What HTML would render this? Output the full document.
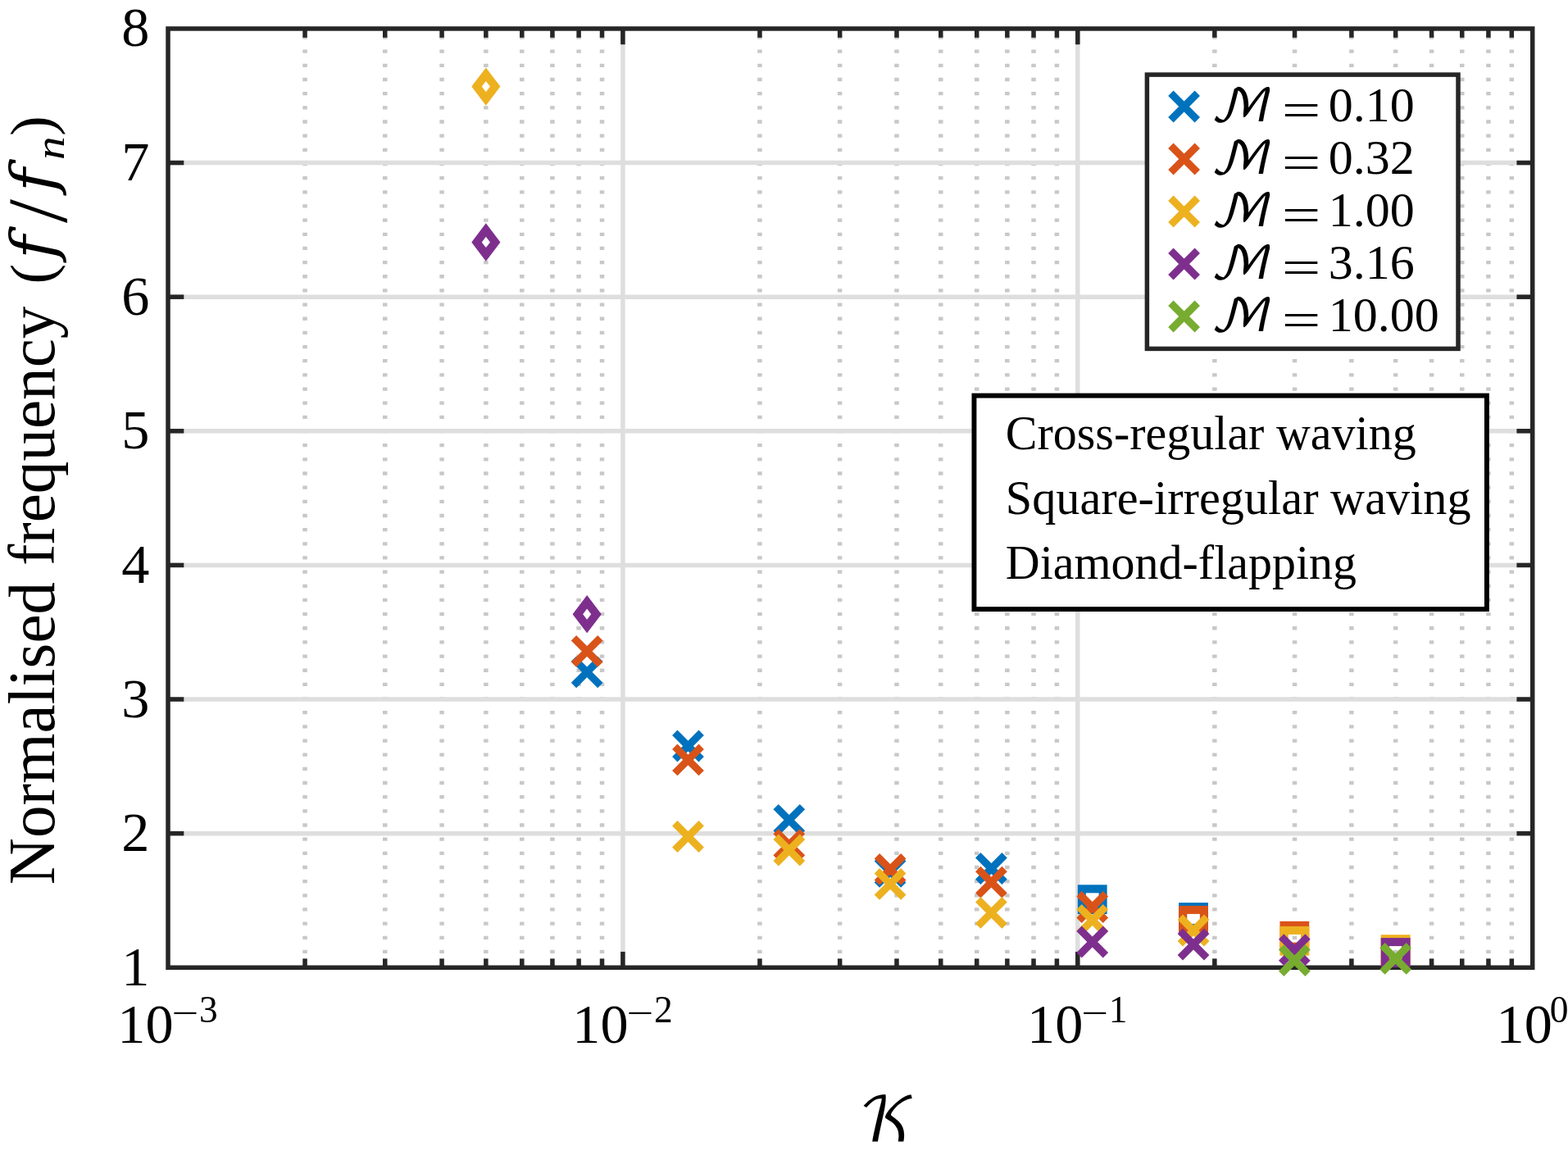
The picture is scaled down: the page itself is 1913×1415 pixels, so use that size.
<!DOCTYPE html>
<html><head><meta charset="utf-8"><title>Normalised frequency vs K</title>
<style>html,body{margin:0;padding:0;background:#fff;overflow:hidden;} svg{display:block;}</style>
</head><body>
<svg width="1913" height="1415" viewBox="0 0 1913 1415">
<rect x="0" y="0" width="1913" height="1415" fill="#ffffff"/>
<g stroke="#c8c8c8" stroke-width="5.5" stroke-dasharray="4.3 12.86" fill="none">
<line x1="372.04" y1="1180.25" x2="372.04" y2="34.95"/>
<line x1="469.75" y1="1180.25" x2="469.75" y2="34.95"/>
<line x1="539.08" y1="1180.25" x2="539.08" y2="34.95"/>
<line x1="592.86" y1="1180.25" x2="592.86" y2="34.95"/>
<line x1="636.80" y1="1180.25" x2="636.80" y2="34.95"/>
<line x1="673.94" y1="1180.25" x2="673.94" y2="34.95"/>
<line x1="706.12" y1="1180.25" x2="706.12" y2="34.95"/>
<line x1="734.51" y1="1180.25" x2="734.51" y2="34.95"/>
<line x1="926.94" y1="1180.25" x2="926.94" y2="34.95"/>
<line x1="1024.65" y1="1180.25" x2="1024.65" y2="34.95"/>
<line x1="1093.98" y1="1180.25" x2="1093.98" y2="34.95"/>
<line x1="1147.76" y1="1180.25" x2="1147.76" y2="34.95"/>
<line x1="1191.70" y1="1180.25" x2="1191.70" y2="34.95"/>
<line x1="1228.84" y1="1180.25" x2="1228.84" y2="34.95"/>
<line x1="1261.02" y1="1180.25" x2="1261.02" y2="34.95"/>
<line x1="1289.41" y1="1180.25" x2="1289.41" y2="34.95"/>
<line x1="1481.84" y1="1180.25" x2="1481.84" y2="34.95"/>
<line x1="1579.55" y1="1180.25" x2="1579.55" y2="34.95"/>
<line x1="1648.88" y1="1180.25" x2="1648.88" y2="34.95"/>
<line x1="1702.66" y1="1180.25" x2="1702.66" y2="34.95"/>
<line x1="1746.60" y1="1180.25" x2="1746.60" y2="34.95"/>
<line x1="1783.74" y1="1180.25" x2="1783.74" y2="34.95"/>
<line x1="1815.92" y1="1180.25" x2="1815.92" y2="34.95"/>
<line x1="1844.31" y1="1180.25" x2="1844.31" y2="34.95"/>
</g>
<g stroke="#dedede" stroke-width="5.5" fill="none">
<line x1="759.90" y1="1180.25" x2="759.90" y2="34.95"/>
<line x1="1314.80" y1="1180.25" x2="1314.80" y2="34.95"/>
<line x1="205.0" y1="1016.64" x2="1869.7" y2="1016.64"/>
<line x1="205.0" y1="853.02" x2="1869.7" y2="853.02"/>
<line x1="205.0" y1="689.41" x2="1869.7" y2="689.41"/>
<line x1="205.0" y1="525.79" x2="1869.7" y2="525.79"/>
<line x1="205.0" y1="362.18" x2="1869.7" y2="362.18"/>
<line x1="205.0" y1="198.56" x2="1869.7" y2="198.56"/>
</g>
<g stroke="#262626" stroke-width="5.5" fill="none">
<line x1="759.90" y1="1180.25" x2="759.90" y2="1160.95"/><line x1="759.90" y1="34.95" x2="759.90" y2="54.25"/>
<line x1="1314.80" y1="1180.25" x2="1314.80" y2="1160.95"/><line x1="1314.80" y1="34.95" x2="1314.80" y2="54.25"/>
<line x1="372.04" y1="1180.25" x2="372.04" y2="1169.35"/><line x1="372.04" y1="34.95" x2="372.04" y2="45.85"/>
<line x1="469.75" y1="1180.25" x2="469.75" y2="1169.35"/><line x1="469.75" y1="34.95" x2="469.75" y2="45.85"/>
<line x1="539.08" y1="1180.25" x2="539.08" y2="1169.35"/><line x1="539.08" y1="34.95" x2="539.08" y2="45.85"/>
<line x1="592.86" y1="1180.25" x2="592.86" y2="1169.35"/><line x1="592.86" y1="34.95" x2="592.86" y2="45.85"/>
<line x1="636.80" y1="1180.25" x2="636.80" y2="1169.35"/><line x1="636.80" y1="34.95" x2="636.80" y2="45.85"/>
<line x1="673.94" y1="1180.25" x2="673.94" y2="1169.35"/><line x1="673.94" y1="34.95" x2="673.94" y2="45.85"/>
<line x1="706.12" y1="1180.25" x2="706.12" y2="1169.35"/><line x1="706.12" y1="34.95" x2="706.12" y2="45.85"/>
<line x1="734.51" y1="1180.25" x2="734.51" y2="1169.35"/><line x1="734.51" y1="34.95" x2="734.51" y2="45.85"/>
<line x1="926.94" y1="1180.25" x2="926.94" y2="1169.35"/><line x1="926.94" y1="34.95" x2="926.94" y2="45.85"/>
<line x1="1024.65" y1="1180.25" x2="1024.65" y2="1169.35"/><line x1="1024.65" y1="34.95" x2="1024.65" y2="45.85"/>
<line x1="1093.98" y1="1180.25" x2="1093.98" y2="1169.35"/><line x1="1093.98" y1="34.95" x2="1093.98" y2="45.85"/>
<line x1="1147.76" y1="1180.25" x2="1147.76" y2="1169.35"/><line x1="1147.76" y1="34.95" x2="1147.76" y2="45.85"/>
<line x1="1191.70" y1="1180.25" x2="1191.70" y2="1169.35"/><line x1="1191.70" y1="34.95" x2="1191.70" y2="45.85"/>
<line x1="1228.84" y1="1180.25" x2="1228.84" y2="1169.35"/><line x1="1228.84" y1="34.95" x2="1228.84" y2="45.85"/>
<line x1="1261.02" y1="1180.25" x2="1261.02" y2="1169.35"/><line x1="1261.02" y1="34.95" x2="1261.02" y2="45.85"/>
<line x1="1289.41" y1="1180.25" x2="1289.41" y2="1169.35"/><line x1="1289.41" y1="34.95" x2="1289.41" y2="45.85"/>
<line x1="1481.84" y1="1180.25" x2="1481.84" y2="1169.35"/><line x1="1481.84" y1="34.95" x2="1481.84" y2="45.85"/>
<line x1="1579.55" y1="1180.25" x2="1579.55" y2="1169.35"/><line x1="1579.55" y1="34.95" x2="1579.55" y2="45.85"/>
<line x1="1648.88" y1="1180.25" x2="1648.88" y2="1169.35"/><line x1="1648.88" y1="34.95" x2="1648.88" y2="45.85"/>
<line x1="1702.66" y1="1180.25" x2="1702.66" y2="1169.35"/><line x1="1702.66" y1="34.95" x2="1702.66" y2="45.85"/>
<line x1="1746.60" y1="1180.25" x2="1746.60" y2="1169.35"/><line x1="1746.60" y1="34.95" x2="1746.60" y2="45.85"/>
<line x1="1783.74" y1="1180.25" x2="1783.74" y2="1169.35"/><line x1="1783.74" y1="34.95" x2="1783.74" y2="45.85"/>
<line x1="1815.92" y1="1180.25" x2="1815.92" y2="1169.35"/><line x1="1815.92" y1="34.95" x2="1815.92" y2="45.85"/>
<line x1="1844.31" y1="1180.25" x2="1844.31" y2="1169.35"/><line x1="1844.31" y1="34.95" x2="1844.31" y2="45.85"/>
<line x1="205.0" y1="1016.64" x2="224.3" y2="1016.64"/><line x1="1869.7" y1="1016.64" x2="1850.4" y2="1016.64"/>
<line x1="205.0" y1="853.02" x2="224.3" y2="853.02"/><line x1="1869.7" y1="853.02" x2="1850.4" y2="853.02"/>
<line x1="205.0" y1="689.41" x2="224.3" y2="689.41"/><line x1="1869.7" y1="689.41" x2="1850.4" y2="689.41"/>
<line x1="205.0" y1="525.79" x2="224.3" y2="525.79"/><line x1="1869.7" y1="525.79" x2="1850.4" y2="525.79"/>
<line x1="205.0" y1="362.18" x2="224.3" y2="362.18"/><line x1="1869.7" y1="362.18" x2="1850.4" y2="362.18"/>
<line x1="205.0" y1="198.56" x2="224.3" y2="198.56"/><line x1="1869.7" y1="198.56" x2="1850.4" y2="198.56"/>
</g>
<rect x="205.0" y="34.95" width="1664.70" height="1145.30" fill="none" stroke="#262626" stroke-width="5.5" stroke-linejoin="miter"/>
<path d="M699.97 803.60L732.37 836.00M699.97 836.00L732.37 803.60" stroke="#0072BD" stroke-width="9.0" stroke-linecap="butt" fill="none"/>
<path d="M823.28 893.80L855.68 926.20M823.28 926.20L855.68 893.80" stroke="#0072BD" stroke-width="9.0" stroke-linecap="butt" fill="none"/>
<path d="M946.59 984.10L978.99 1016.50M946.59 1016.50L978.99 984.10" stroke="#0072BD" stroke-width="9.0" stroke-linecap="butt" fill="none"/>
<path d="M1069.90 1047.20L1102.30 1079.60M1069.90 1079.60L1102.30 1047.20" stroke="#0072BD" stroke-width="9.0" stroke-linecap="butt" fill="none"/>
<path d="M1193.21 1043.30L1225.61 1075.70M1193.21 1075.70L1225.61 1043.30" stroke="#0072BD" stroke-width="9.0" stroke-linecap="butt" fill="none"/>
<rect x="1319.83" y="1084.30" width="25.80" height="25.80" stroke="#0072BD" stroke-width="10.0" fill="none"/>
<rect x="1443.14" y="1106.10" width="25.80" height="25.80" stroke="#0072BD" stroke-width="10.0" fill="none"/>
<path d="M699.97 778.20L732.37 810.60M699.97 810.60L732.37 778.20" stroke="#D95319" stroke-width="9.0" stroke-linecap="butt" fill="none"/>
<path d="M823.28 910.70L855.68 943.10M823.28 943.10L855.68 910.70" stroke="#D95319" stroke-width="9.0" stroke-linecap="butt" fill="none"/>
<path d="M946.59 1014.10L978.99 1046.50M946.59 1046.50L978.99 1014.10" stroke="#D95319" stroke-width="9.0" stroke-linecap="butt" fill="none"/>
<path d="M1069.90 1044.20L1102.30 1076.60M1069.90 1076.60L1102.30 1044.20" stroke="#D95319" stroke-width="9.0" stroke-linecap="butt" fill="none"/>
<path d="M1193.21 1060.00L1225.61 1092.40M1193.21 1092.40L1225.61 1060.00" stroke="#D95319" stroke-width="9.0" stroke-linecap="butt" fill="none"/>
<path d="M1316.53 1090.30L1348.93 1122.70M1316.53 1122.70L1348.93 1090.30" stroke="#D95319" stroke-width="9.0" stroke-linecap="butt" fill="none"/>
<rect x="1443.14" y="1109.90" width="25.80" height="25.80" stroke="#D95319" stroke-width="10.0" fill="none"/>
<rect x="1566.45" y="1128.80" width="25.80" height="25.80" stroke="#D95319" stroke-width="10.0" fill="none"/>
<rect x="1689.76" y="1148.10" width="25.80" height="25.80" stroke="#D95319" stroke-width="10.0" fill="none"/>
<path d="M592.86 90.70L604.16 105.60L592.86 120.50L581.56 105.60Z" stroke="#EDB120" stroke-width="10.0" stroke-linejoin="miter" stroke-miterlimit="10" fill="none"/>
<path d="M823.28 1004.30L855.68 1036.70M823.28 1036.70L855.68 1004.30" stroke="#EDB120" stroke-width="9.0" stroke-linecap="butt" fill="none"/>
<path d="M946.59 1020.80L978.99 1053.20M946.59 1053.20L978.99 1020.80" stroke="#EDB120" stroke-width="9.0" stroke-linecap="butt" fill="none"/>
<path d="M1069.90 1062.20L1102.30 1094.60M1069.90 1094.60L1102.30 1062.20" stroke="#EDB120" stroke-width="9.0" stroke-linecap="butt" fill="none"/>
<path d="M1193.21 1097.20L1225.61 1129.60M1193.21 1129.60L1225.61 1097.20" stroke="#EDB120" stroke-width="9.0" stroke-linecap="butt" fill="none"/>
<path d="M1316.53 1106.30L1348.93 1138.70M1316.53 1138.70L1348.93 1106.30" stroke="#EDB120" stroke-width="9.0" stroke-linecap="butt" fill="none"/>
<path d="M1439.84 1118.80L1472.24 1151.20M1439.84 1151.20L1472.24 1118.80" stroke="#EDB120" stroke-width="9.0" stroke-linecap="butt" fill="none"/>
<rect x="1566.45" y="1134.90" width="25.80" height="25.80" stroke="#EDB120" stroke-width="10.0" fill="none"/>
<rect x="1689.76" y="1145.20" width="25.80" height="25.80" stroke="#EDB120" stroke-width="10.0" fill="none"/>
<path d="M592.86 280.60L604.16 295.50L592.86 310.40L581.56 295.50Z" stroke="#7E2F8E" stroke-width="10.0" stroke-linejoin="miter" stroke-miterlimit="10" fill="none"/>
<path d="M716.17 734.30L727.47 749.20L716.17 764.10L704.87 749.20Z" stroke="#7E2F8E" stroke-width="10.0" stroke-linejoin="miter" stroke-miterlimit="10" fill="none"/>
<path d="M1316.53 1132.80L1348.93 1165.20M1316.53 1165.20L1348.93 1132.80" stroke="#7E2F8E" stroke-width="9.0" stroke-linecap="butt" fill="none"/>
<path d="M1439.84 1135.80L1472.24 1168.20M1439.84 1168.20L1472.24 1135.80" stroke="#7E2F8E" stroke-width="9.0" stroke-linecap="butt" fill="none"/>
<path d="M1563.15 1142.50L1595.55 1174.90M1563.15 1174.90L1595.55 1142.50" stroke="#7E2F8E" stroke-width="9.0" stroke-linecap="butt" fill="none"/>
<rect x="1689.76" y="1149.10" width="25.80" height="25.80" stroke="#7E2F8E" stroke-width="10.0" fill="none"/>
<path d="M1563.15 1155.40L1595.55 1187.80M1563.15 1187.80L1595.55 1155.40" stroke="#77AC30" stroke-width="9.0" stroke-linecap="butt" fill="none"/>
<path d="M1686.46 1153.20L1718.86 1185.60M1686.46 1185.60L1718.86 1153.20" stroke="#77AC30" stroke-width="9.0" stroke-linecap="butt" fill="none"/>
<rect x="1399.4" y="91.1" width="379.60" height="334.30" fill="#ffffff" stroke="#262626" stroke-width="5.5"/>
<path d="M1428.40 113.80L1460.80 146.20M1428.40 146.20L1460.80 113.80" stroke="#0072BD" stroke-width="9.0" stroke-linecap="butt" fill="none"/>
<text x="0" y="0" transform="translate(1476.73,148.41) scale(1.106,1)" font-family="'DejaVu Math TeX Gyre', 'DejaVu Sans', serif" font-size="55">&#x2133;</text>
<text x="0" y="0" transform="translate(1563.77,154.20) scale(1.41,1)" font-family="'Liberation Serif', 'Times New Roman', serif" font-size="60">=</text>
<text x="1620.82" y="148.40" font-family="'Liberation Serif', 'Times New Roman', serif" font-size="60">0.10</text>
<path d="M1428.40 177.80L1460.80 210.20M1428.40 210.20L1460.80 177.80" stroke="#D95319" stroke-width="9.0" stroke-linecap="butt" fill="none"/>
<text x="0" y="0" transform="translate(1476.73,212.41) scale(1.106,1)" font-family="'DejaVu Math TeX Gyre', 'DejaVu Sans', serif" font-size="55">&#x2133;</text>
<text x="0" y="0" transform="translate(1563.77,218.20) scale(1.41,1)" font-family="'Liberation Serif', 'Times New Roman', serif" font-size="60">=</text>
<text x="1620.82" y="212.40" font-family="'Liberation Serif', 'Times New Roman', serif" font-size="60">0.32</text>
<path d="M1428.40 241.80L1460.80 274.20M1428.40 274.20L1460.80 241.80" stroke="#EDB120" stroke-width="9.0" stroke-linecap="butt" fill="none"/>
<text x="0" y="0" transform="translate(1476.73,276.41) scale(1.106,1)" font-family="'DejaVu Math TeX Gyre', 'DejaVu Sans', serif" font-size="55">&#x2133;</text>
<text x="0" y="0" transform="translate(1563.77,282.20) scale(1.41,1)" font-family="'Liberation Serif', 'Times New Roman', serif" font-size="60">=</text>
<text x="1620.82" y="276.40" font-family="'Liberation Serif', 'Times New Roman', serif" font-size="60">1.00</text>
<path d="M1428.40 305.80L1460.80 338.20M1428.40 338.20L1460.80 305.80" stroke="#7E2F8E" stroke-width="9.0" stroke-linecap="butt" fill="none"/>
<text x="0" y="0" transform="translate(1476.73,340.41) scale(1.106,1)" font-family="'DejaVu Math TeX Gyre', 'DejaVu Sans', serif" font-size="55">&#x2133;</text>
<text x="0" y="0" transform="translate(1563.77,346.20) scale(1.41,1)" font-family="'Liberation Serif', 'Times New Roman', serif" font-size="60">=</text>
<text x="1620.82" y="340.40" font-family="'Liberation Serif', 'Times New Roman', serif" font-size="60">3.16</text>
<path d="M1428.40 369.80L1460.80 402.20M1428.40 402.20L1460.80 369.80" stroke="#77AC30" stroke-width="9.0" stroke-linecap="butt" fill="none"/>
<text x="0" y="0" transform="translate(1476.73,404.41) scale(1.106,1)" font-family="'DejaVu Math TeX Gyre', 'DejaVu Sans', serif" font-size="55">&#x2133;</text>
<text x="0" y="0" transform="translate(1563.77,410.20) scale(1.41,1)" font-family="'Liberation Serif', 'Times New Roman', serif" font-size="60">=</text>
<text x="1620.82" y="404.40" font-family="'Liberation Serif', 'Times New Roman', serif" font-size="60">10.00</text>
<rect x="1188.45" y="482.6" width="625.45" height="260.50" fill="#ffffff" stroke="#000000" stroke-width="5.9"/>
<text x="1226.84" y="548.10" font-family="'Liberation Serif', 'Times New Roman', serif" font-size="60.0" textLength="500.80" lengthAdjust="spacingAndGlyphs">Cross-regular waving</text>
<text x="1226.84" y="626.70" font-family="'Liberation Serif', 'Times New Roman', serif" font-size="60.0" textLength="567.80" lengthAdjust="spacingAndGlyphs">Square-irregular waving</text>
<text x="1226.84" y="705.70" font-family="'Liberation Serif', 'Times New Roman', serif" font-size="60.0" textLength="428.20" lengthAdjust="spacingAndGlyphs">Diamond-flapping</text>
<text x="182.5" y="1201.75" text-anchor="end" font-family="'Liberation Serif', 'Times New Roman', serif" font-size="68.3">1</text>
<text x="182.5" y="1038.14" text-anchor="end" font-family="'Liberation Serif', 'Times New Roman', serif" font-size="68.3">2</text>
<text x="182.5" y="874.52" text-anchor="end" font-family="'Liberation Serif', 'Times New Roman', serif" font-size="68.3">3</text>
<text x="182.5" y="710.91" text-anchor="end" font-family="'Liberation Serif', 'Times New Roman', serif" font-size="68.3">4</text>
<text x="182.5" y="547.29" text-anchor="end" font-family="'Liberation Serif', 'Times New Roman', serif" font-size="68.3">5</text>
<text x="182.5" y="383.68" text-anchor="end" font-family="'Liberation Serif', 'Times New Roman', serif" font-size="68.3">6</text>
<text x="182.5" y="220.06" text-anchor="end" font-family="'Liberation Serif', 'Times New Roman', serif" font-size="68.3">7</text>
<text x="182.5" y="56.45" text-anchor="end" font-family="'Liberation Serif', 'Times New Roman', serif" font-size="68.3">8</text>
<text x="143.29" y="1271.8" font-family="'Liberation Serif', 'Times New Roman', serif" font-size="68.3">10</text><text x="0" y="0" transform="translate(209.69,1250.61) scale(1.28,1)" font-family="'Liberation Serif', 'Times New Roman', serif" font-size="45.5">&#x2212;</text><text x="242.95" y="1246.5" font-family="'Liberation Serif', 'Times New Roman', serif" font-size="45.5">3</text>
<text x="698.29" y="1271.8" font-family="'Liberation Serif', 'Times New Roman', serif" font-size="68.3">10</text><text x="0" y="0" transform="translate(764.69,1250.61) scale(1.28,1)" font-family="'Liberation Serif', 'Times New Roman', serif" font-size="45.5">&#x2212;</text><text x="797.95" y="1246.5" font-family="'Liberation Serif', 'Times New Roman', serif" font-size="45.5">2</text>
<text x="1253.09" y="1271.8" font-family="'Liberation Serif', 'Times New Roman', serif" font-size="68.3">10</text><text x="0" y="0" transform="translate(1319.49,1250.61) scale(1.28,1)" font-family="'Liberation Serif', 'Times New Roman', serif" font-size="45.5">&#x2212;</text><text x="1352.75" y="1246.5" font-family="'Liberation Serif', 'Times New Roman', serif" font-size="45.5">1</text>
<text x="1825.49" y="1271.8" font-family="'Liberation Serif', 'Times New Roman', serif" font-size="68.3">10</text><text x="1890.67" y="1246.5" font-family="'Liberation Serif', 'Times New Roman', serif" font-size="45.5">0</text>
<text x="1047.56" y="1393.0" font-family="'DejaVu Math TeX Gyre', 'DejaVu Sans', serif" font-size="75.5">&#x1D4A6;</text>
<g transform="translate(66.4,1076.9) rotate(-90)">
<text x="-2.32" y="0" font-family="'Liberation Serif', 'Times New Roman', serif" font-size="80.0" textLength="705.64" lengthAdjust="spacingAndGlyphs">Normalised frequency</text>
<text x="0" y="0" transform="translate(730.43,-2.5)" font-family="'Liberation Serif', 'Times New Roman', serif" font-size="74.3">(</text>
<text x="0" y="0" transform="translate(749.89,0) scale(1.07,1)" font-family="'DejaVu Math TeX Gyre', 'DejaVu Sans', serif" font-size="72.5">&#x1D453;</text>
<text x="804.90" y="14.7" font-family="'Liberation Serif', 'Times New Roman', serif" font-size="104">/</text>
<text x="0" y="0" transform="translate(831.99,0) scale(1.07,1)" font-family="'DejaVu Math TeX Gyre', 'DejaVu Sans', serif" font-size="72.5">&#x1D453;</text>
<text x="0" y="0" transform="translate(881.95,11.7) scale(1.14,1)" font-family="'Liberation Serif', 'Times New Roman', serif" font-style="italic" font-size="50.0">n</text>
<text x="0" y="0" transform="translate(910.82,-2.5)" font-family="'Liberation Serif', 'Times New Roman', serif" font-size="74.3">)</text>
</g>
</svg>
</body></html>
